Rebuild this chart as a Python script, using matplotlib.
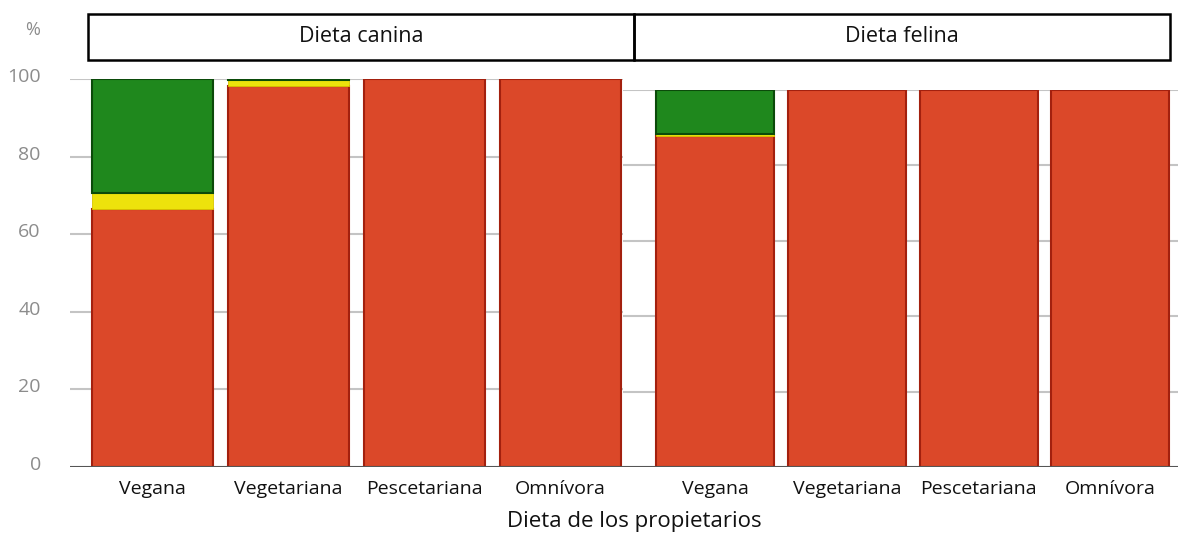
import matplotlib
matplotlib.use("Agg")
import matplotlib.pyplot as plt
from matplotlib.patches import Rectangle
from matplotlib.transforms import ScaledTranslation

plt.rcParams['font.family'] = ['Open Sans', 'DejaVu Sans']

categories = ["Vegana", "Vegetariana", "Pescetariana", "Omnívora"]
panels = ["Dieta canina", "Dieta felina"]

# Percentages (red / yellow / green) per owner diet
canina_red = [66.4, 98.2, 100.0, 100.0]
canina_yellow = [4.1, 1.5, 0.0, 0.0]
canina_green = [29.5, 0.3, 0.0, 0.0]

felina_red = [87.9, 100.0, 100.0, 100.0]
felina_yellow = [0.3, 0.0, 0.0, 0.0]
felina_green = [11.8, 0.0, 0.0, 0.0]

yticks = [0, 20, 40, 60, 80, 100]
xlabel = "Dieta de los propietarios"

RED, RED_E = "#DB4829", "#A3200E"
YEL, YEL_E = "#EDE20C", "#D9C600"
GRN, GRN_E = "#1F881D", "#0B4A0A"

W, H = 1178, 539
fig = plt.figure(figsize=(W / 100, H / 100), dpi=100)


def fx(px):
    return px / W


def fy(py):
    return 1 - py / H


def stack(ax, x, vals, bottoms, width, color, edge, lw):
    xs = [xi for xi, v in zip(x, vals) if v > 0]
    vs = [v for v in vals if v > 0]
    bs = [b for b, v in zip(bottoms, vals) if v > 0]
    if xs:
        ax.bar(xs, vs, width=width, bottom=bs, color=color, edgecolor=edge, linewidth=lw, zorder=3)


def draw_panel(ax, red, yel, grn, width, xlim, show_labels):
    x = list(range(len(categories)))
    zeros = [0] * len(x)
    stack(ax, x, red, zeros, width, RED, RED_E, 1.5)
    stack(ax, x, yel, red, width, YEL, YEL_E, 0.6)
    bottoms = [r + y for r, y in zip(red, yel)]
    stack(ax, x, grn, bottoms, width, GRN, GRN_E, 1.5)
    ax.set_xlim(*xlim)
    ax.set_ylim(0, 100)
    ax.set_yticks(yticks)
    for t in yticks[1:]:
        ax.axhline(t, color="#c4c4c4", linewidth=1.5, zorder=1)
    ax.axhline(0, color="#555555", linewidth=1.5, zorder=4)
    for s in ax.spines.values():
        s.set_visible(False)
    ax.tick_params(axis='y', length=0, pad=21, labelsize=14, labelcolor="#8c8c8c")
    ax.tick_params(axis='x', length=0, pad=9, labelsize=14, labelcolor="#111111")
    ax.set_xticks(x)
    ax.set_xticklabels(categories)
    if show_labels:
        ax.set_yticklabels([str(t) for t in yticks])
        for lbl in ax.get_yticklabels():
            lbl.set_transform(lbl.get_transform() + ScaledTranslation(0, 4 / 100, fig.dpi_scale_trans))
    else:
        ax.set_yticklabels([])
    ax.patch.set_alpha(0)


# Left panel (canina)
axL = fig.add_axes([fx(70), fy(467), fx(623 - 70), fy(79) - fy(467)])
draw_panel(axL, canina_red, canina_yellow, canina_green, 0.89, (-0.607, 3.46), True)

# Right panel (felina)
axR = fig.add_axes([fx(623), fy(467), fx(1178 - 623), fy(90) - fy(467)])
draw_panel(axR, felina_red, felina_yellow, felina_green, 0.895, (-0.698, 3.513), False)

# Header boxes
box_top, box_bot = 14, 60
x0, xm, x1 = 88, 634, 1170
for a, b, name in [(x0, xm, panels[0]), (xm, x1, panels[1])]:
    fig.patches.append(Rectangle((fx(a), fy(box_bot)), fx(b - a), fy(box_top) - fy(box_bot),
                                 transform=fig.transFigure, fill=False, edgecolor="black",
                                 linewidth=1.8))
    fig.text(fx((a + b) / 2), fy((box_top + box_bot) / 2), name, ha="center", va="center",
             fontsize=15.5, color="#111111")

fig.text(fx(33), fy(30), "%", ha="center", va="center", fontsize=13, color="#8c8c8c")
fig.text(fx(634), fy(521), xlabel, ha="center", va="center", fontsize=16, color="#111111")

fig.savefig("out.png", dpi=100)
